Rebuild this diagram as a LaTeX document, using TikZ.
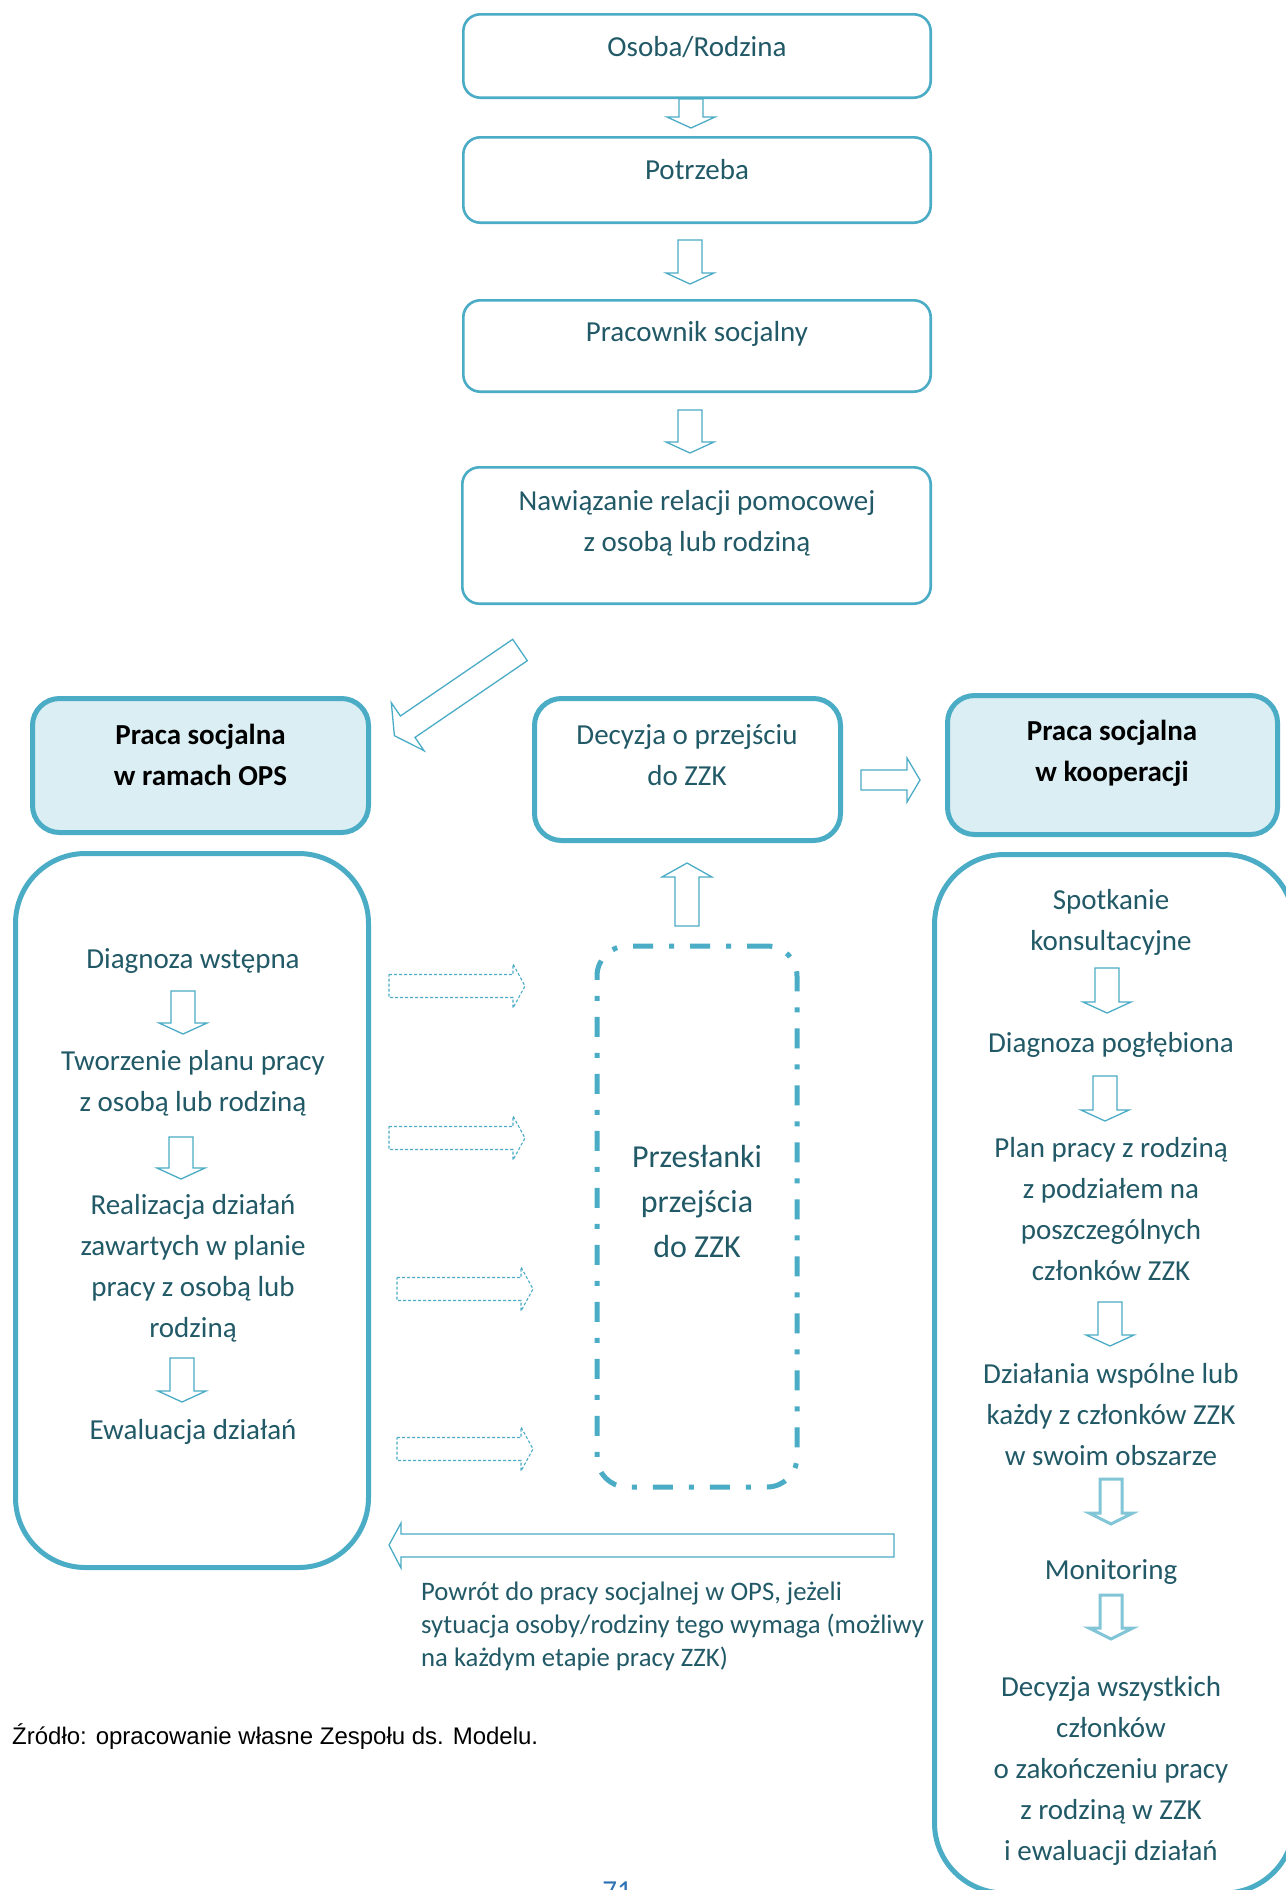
\documentclass[tikz,border=0pt]{standalone}
\usepackage{fontspec}
\setmainfont{Carlito}
\newfontfamily\arialf{Liberation Sans}
\definecolor{acc}{HTML}{4BACC6}
\definecolor{lfill}{HTML}{DAEEF3}
\definecolor{tcol}{HTML}{215967}
\definecolor{pgnum}{HTML}{2E74B5}
\tikzset{
  topbox/.style={draw=acc, line width=2.6pt, rounded corners=17pt, fill=white, inner sep=0pt},
  hdrbox/.style={draw=acc, line width=5pt, rounded corners=27pt, inner sep=0pt},
  bigbox/.style={draw=acc, line width=5pt, rounded corners=70pt, inner sep=0pt},
  txt/.style={text=tcol, font=\fontsize{29}{41}\selectfont, align=center, inner sep=0pt},
  boldtxt/.style={text=black, font=\fontsize{29}{41}\selectfont\bfseries, align=center, inner sep=0pt},
  barrow/.style={draw=acc, line width=1.3pt, fill=white, line join=miter},
  barrowb/.style={draw=acc!70, line width=3pt, fill=white, line join=miter},
  dotarrow/.style={draw=acc, line width=1.1pt, dash pattern=on 3pt off 2pt, fill=white},
  pics/darr/.style={code={\draw[barrow] (-12,0) -- (-12,#1-11) -- (-24,#1-11) -- (0,#1) -- (24,#1-11) -- (12,#1-11) -- (12,0) -- cycle;}},
  pics/darrb/.style={code={\draw[barrowb] (-11,0) -- (-11,#1-11) -- (-22,#1-11) -- (0,#1) -- (22,#1-11) -- (11,#1-11) -- (11,0) -- cycle;}},
  pics/rarr/.style={code={\draw[dotarrow] (0,-11.5) -- (#1-12,-11.5) -- (#1-12,-22) -- (#1,0) -- (#1-12,22) -- (#1-12,11.5) -- (0,11.5) -- cycle;}}
}
\begin{document}
\begin{tikzpicture}[x=1pt,y=-1pt]
\useasboundingbox[fill=white] (0,0) rectangle (1285,1890);

% top column
\node[topbox, minimum width=467.4pt, minimum height=83.4pt] (b1) at (697,56) {};
\node[txt] (t1) at (697,47) {Osoba/Rodzina};
\node[topbox, minimum width=467.4pt, minimum height=85.4pt] (b2) at (697,180) {};
\node[txt] (t2) at (697,170) {Potrzeba};
\node[topbox, minimum width=467.4pt, minimum height=91.4pt] (b3) at (697,346) {};
\node[txt] (t3) at (697,334) {Pracownik socjalny};
\node[topbox, minimum width=468.4pt, minimum height=136.4pt] (b4) at (696.5,535.5) {};
\node[txt] (t4) at (697,523.5) {Nawiązanie relacji pomocowej\\z osobą lub rodziną};

\pic at (691,99) {darr=29};
\pic at (690,240) {darr=44};
\pic at (690,410) {darr=43};

% diagonal arrow
\draw[barrow] (527.3,660.7) -- (415.0,737.4) -- (424.1,750.7) -- (394.4,735.7)
  -- (391.3,702.7) -- (400.4,716.0) -- (512.7,639.3) -- cycle;

% header boxes
\node[hdrbox, fill=lfill, minimum width=336pt, minimum height=134pt] (h1) at (200.5,765.5) {};
\node[boldtxt] (ht1) at (200.5,754.5) {Praca socjalna\\w ramach OPS};
\node[hdrbox, fill=white, minimum width=306pt, minimum height=142pt] (h2) at (687.5,769.5) {};
\node[txt] (ht2) at (687,755) {Decyzja o przejściu\\do ZZK};
\node[hdrbox, fill=lfill, minimum width=330pt, minimum height=139pt] (h3) at (1112.5,765) {};
\node[boldtxt] (ht3) at (1112,753) {Praca socjalna\\w kooperacji};

% right arrow and up arrow
\draw[barrow] (861,770) -- (907,770) -- (907,758) -- (920,780) -- (907,802) -- (907,790) -- (861,790) -- cycle;
\draw[barrow] (675,926) -- (675,877) -- (662,877) -- (687,863) -- (712,877) -- (699,877) -- (699,926) -- cycle;

% big boxes
\node[bigbox, minimum width=353pt, minimum height=714pt] (lb) at (192,1210.5) {};
\node[bigbox, minimum width=359.5pt, minimum height=1038.5pt] (rb) at (1114.25,1373.75) {};

% left column content
\node[txt] (l1) at (193,961) {Diagnoza wstępna};
\pic at (183,991) {darr=43};
\node[txt] (l2) at (193,1083.5) {Tworzenie planu pracy\\z osobą lub rodziną};
\pic at (181,1137) {darr=42};
\node[txt] (l3) at (193,1268.5) {Realizacja działań\\zawartych w planie\\pracy z osobą lub\\rodziną};
\pic at (182,1358) {darr=44};
\node[txt] (l4) at (193,1432) {Ewaluacja działań};

% right column content
\node[txt] (r1) at (1111,922.5) {Spotkanie\\konsultacyjne};
\pic at (1107,968) {darr=45};
\node[txt] (r2) at (1111,1045) {Diagnoza pogłębiona};
\pic at (1105,1076) {darr=45};
\node[txt] (r3) at (1111,1209.5) {Plan pracy z rodziną\\z podziałem na\\poszczególnych\\członków ZZK};
\pic at (1110,1302) {darr=44};
\node[txt] (r4) at (1111,1415) {Działania wspólne lub\\każdy z członków ZZK\\w swoim obszarze};
\pic at (1111,1479) {darrb=45};
\node[txt] (r5) at (1111,1572) {Monitoring};
\pic at (1111,1595) {darrb=44};
\node[txt] (r6) at (1111,1770.5) {Decyzja wszystkich\\członków\\o zakończeniu pracy\\z rodziną w ZZK\\i ewaluacji działań};

% dash-dot box
\node[draw=acc, line width=5pt, rounded corners=30pt, dash pattern=on 20pt off 16pt on 5pt off 16pt,
  minimum width=200pt, minimum height=541pt, inner sep=0pt] (pz) at (697,1216.5) {};
\node[text=tcol, font=\fontsize{32}{45}\selectfont, align=center, inner sep=0pt] (pzt) at (697,1201.5) {Przesłanki\\przejścia\\do ZZK};

% dotted arrows
\pic at (389,986) {rarr=136};
\pic at (389,1138) {rarr=136};
\pic at (397,1289) {rarr=136};
\pic at (397,1449) {rarr=136};

% return arrow
\draw[barrow] (894,1534) -- (401,1534) -- (401,1523) -- (389,1545) -- (401,1568) -- (401,1557) -- (894,1557) -- cycle;
\node[text=tcol, font=\fontsize{26.7}{33}\selectfont, align=left, inner sep=0pt, anchor=west] (ret) at (421,1626)
  {Powrót do pracy socjalnej w OPS, jeżeli\\sytuacja osoby/rodziny tego wymaga (możliwy\\na każdym etapie pracy ZZK)};

% source
\node[text=black, font=\arialf\fontsize{24}{29}\selectfont, inner sep=0pt, anchor=west] (src) at (12,1737)
  {Źródło: opracowanie własne Zespołu ds. Modelu.};
\node[text=pgnum, font=\fontsize{29}{35}\selectfont, inner sep=0pt, anchor=north] (pg) at (617,1882) {71};
\end{tikzpicture}
\end{document}
